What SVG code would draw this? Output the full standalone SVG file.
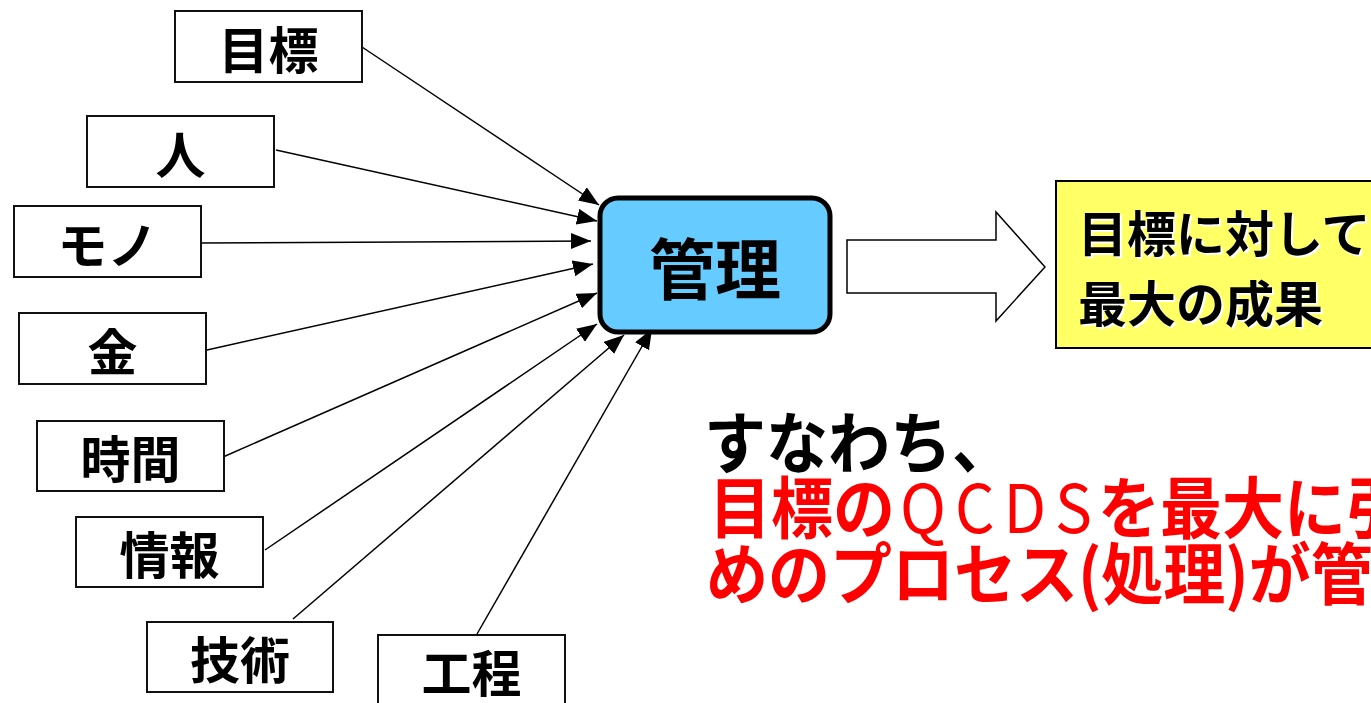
<svg xmlns="http://www.w3.org/2000/svg" width="1371" height="703" viewBox="0 0 1371 703">
<style>
.box{fill:#fff;stroke:#111;stroke-width:2}
.lbl{font-family:"Noto Sans CJK JP","Noto Sans CJK SC",sans-serif;font-weight:700;font-size:50px;fill:#000;text-anchor:middle}
.con{stroke:#000;stroke-width:1.5;fill:none;marker-end:url(#ah)}
.big{font-family:"Noto Sans CJK JP","Noto Sans CJK SC",sans-serif;font-weight:700;font-size:62px}
.red{fill:#ff0000}
.ytxt{font-family:"Noto Sans CJK JP","Noto Sans CJK SC",sans-serif;font-weight:700;font-size:49px}
</style>
<defs>
<marker id="ah" markerUnits="userSpaceOnUse" markerWidth="22" markerHeight="18" refX="20" refY="8" orient="auto">
<path d="M0,0 L20,8 L0,16 z" fill="#000"/>
</marker>
</defs>
<rect width="1371" height="703" fill="#fff"/>
<g id="connectors">
<line class="con" x1="362" y1="47" x2="599" y2="205"/>
<line class="con" x1="276" y1="150" x2="597" y2="221"/>
<line class="con" x1="200" y1="243" x2="591" y2="241"/>
<line class="con" x1="207" y1="350" x2="593" y2="264"/>
<line class="con" x1="223" y1="457" x2="597" y2="293"/>
<line class="con" x1="265" y1="550" x2="597" y2="324"/>
<line class="con" x1="293" y1="619" x2="624" y2="335"/>
<line class="con" x1="477" y1="634" x2="652" y2="329"/>
<path d="M847,240 H996 V212 L1045,267 L996,321 V293 H847 Z" fill="#fff" stroke="#000" stroke-width="1.5"/>
</g>
<g id="n-mokuhyo"><rect class="box" x="175" y="11" width="187" height="71"/><text class="lbl" x="268.5" y="69">目標</text></g>
<g id="n-hito"><rect class="box" x="87" y="116" width="187" height="71"/><text class="lbl" x="180.5" y="174">人</text></g>
<g id="n-mono"><rect class="box" x="14" y="206" width="187" height="71"/><text class="lbl" x="107.5" y="264">モノ</text></g>
<g id="n-kane"><rect class="box" x="19" y="313" width="187" height="71"/><text class="lbl" x="112.5" y="371">金</text></g>
<g id="n-jikan"><rect class="box" x="37" y="421" width="187" height="70"/><text class="lbl" x="130.5" y="478">時間</text></g>
<g id="n-joho"><rect class="box" x="76" y="517" width="187" height="70"/><text class="lbl" x="169.5" y="574">情報</text></g>
<g id="n-gijutsu"><rect class="box" x="147" y="622" width="186" height="70"/><text class="lbl" x="240" y="679">技術</text></g>
<g id="n-kotei"><rect class="box" x="378" y="635" width="187" height="80"/><text class="lbl" x="471.5" y="692">工程</text></g>
<g id="n-kanri"><rect x="600" y="198" width="230" height="134" rx="18" fill="#66ccff" stroke="#000" stroke-width="5"/><text class="lbl" x="715" y="294" style="font-size:66px">管理</text></g>
<g id="n-result">
<rect x="1056" y="181" width="330" height="167" fill="#ffff66" stroke="#000" stroke-width="2"/>
<text class="ytxt" fill="#fff" x="1080" y="254">目標に対して</text>
<text class="ytxt" fill="#fff" x="1080" y="324">最大の成果</text>
<text class="ytxt" fill="#000" x="1078" y="252">目標に対して</text>
<text class="ytxt" fill="#000" x="1078" y="322">最大の成果</text>
</g>
<g id="summary">
<g transform="translate(0,468) scale(1,1.08)"><text class="big" fill="#000" x="704" y="0">すなわち、</text></g>
<g transform="translate(0,533) scale(1,1.08)">
<text class="big red" x="709" y="0">目標の</text>
<text class="red" x="900" y="0" textLength="192" lengthAdjust="spacing" style="font-family:'Noto Sans CJK JP',sans-serif;font-weight:400;font-size:62px">QCDS</text>
<text class="big red" x="1098" y="0">を最大に引</text>
</g>
<g transform="translate(0,599) scale(1,1.08)"><text class="big red" x="706" y="0">めのプロセス(処理)が管</text></g>
</g>
</svg>
